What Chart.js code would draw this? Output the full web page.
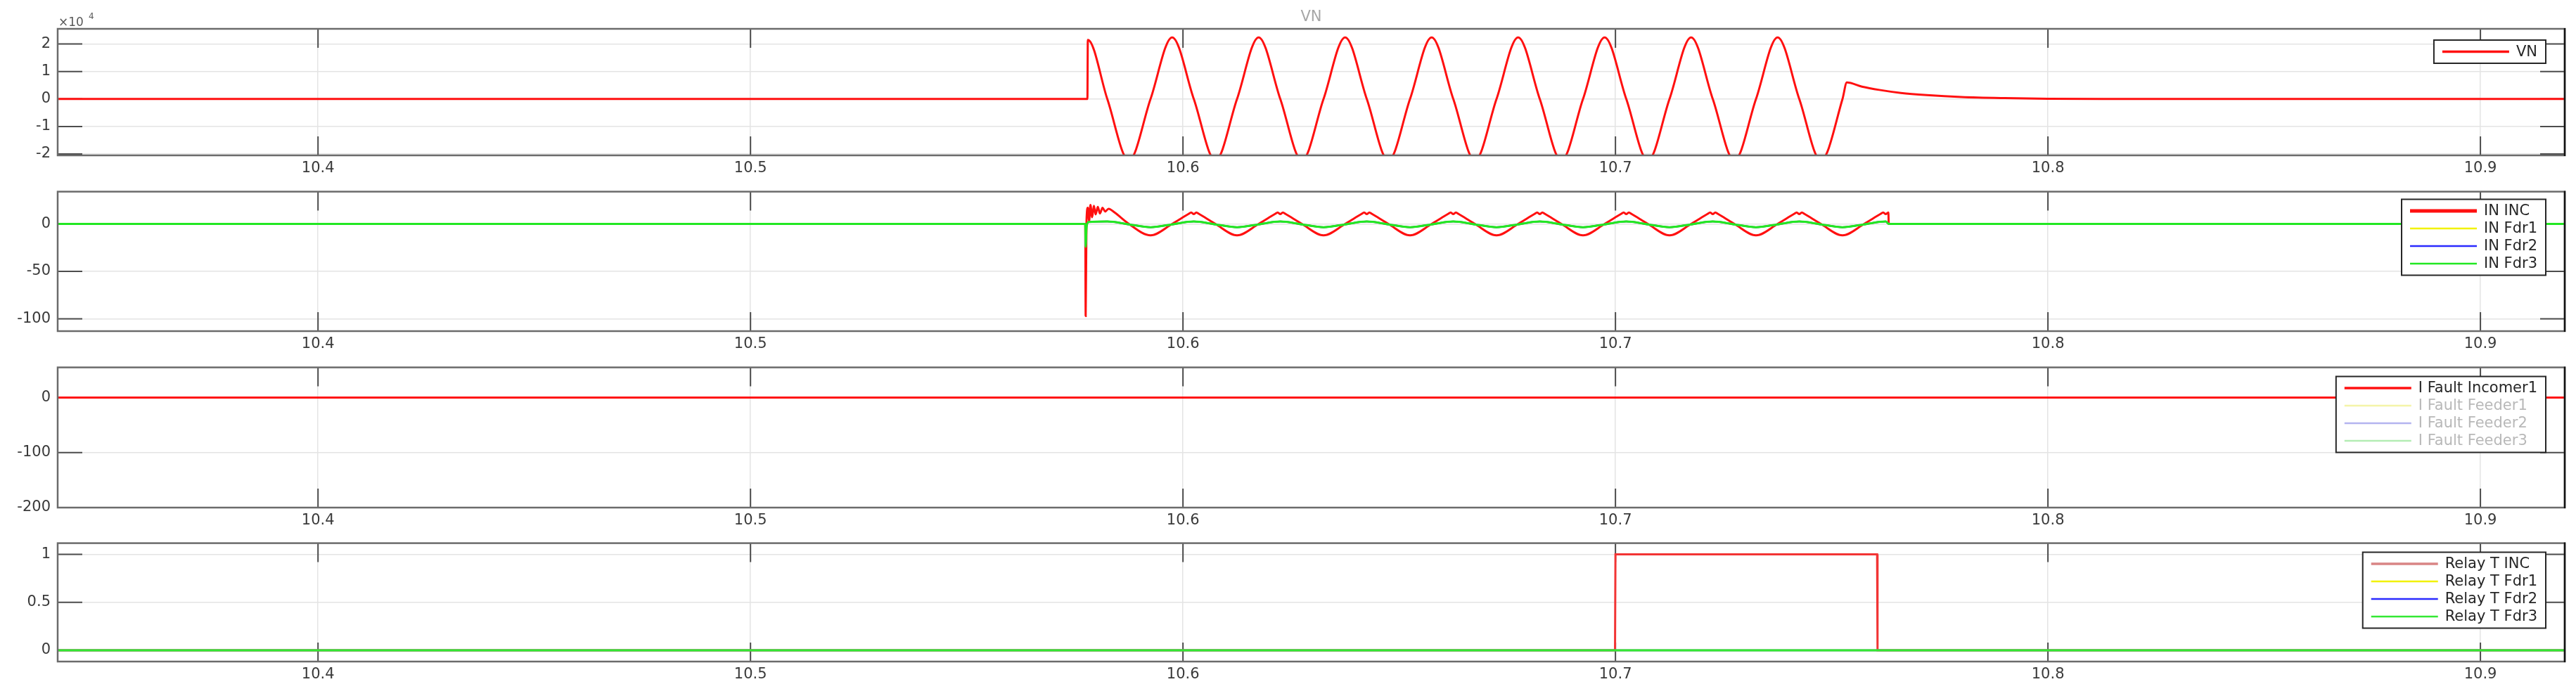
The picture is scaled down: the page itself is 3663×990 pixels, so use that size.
<!DOCTYPE html>
<html>
<head>
<meta charset="utf-8">
<script src="https://cdn.jsdelivr.net/npm/chart.js@4.4.1/dist/chart.umd.min.js"></script>
<style>
  html, body { margin: 0; padding: 0; background: #fff; }
  #wrap { position: relative; width: 3663px; height: 990px; overflow: hidden; }
  canvas { position: absolute; left: 0; }
</style>
</head>
<body>
<div id="wrap">
  <canvas id="cVN"    width="3663" height="250" style="top:0px"></canvas>
  <canvas id="cIN"    width="3663" height="250" style="top:250px"></canvas>
  <canvas id="cFault" width="3663" height="250" style="top:500px"></canvas>
  <canvas id="cRelay" width="3663" height="240" style="top:750px"></canvas>
</div>
<script>
/* ===== time axis ===== */
const tStart = 10.3398, tEnd = 10.9195;
const xTickValues = [10.4, 10.5, 10.6, 10.7, 10.8, 10.9];

/* ===== VN (x10^4) ===== */
const vnTicks = [-2, -1, 0, 1, 2];
const vnTime = [10.3398, 10.5779, 10.578, 10.5825, 10.5875, 10.5925,
  10.5975, 10.6025, 10.6075, 10.6125, 10.6175, 10.6225, 10.6275, 10.6325,
  10.6375, 10.6425, 10.6475, 10.6525, 10.6575, 10.6625, 10.6675, 10.6725,
  10.6775, 10.6825, 10.6875, 10.6925, 10.6975, 10.7025, 10.7075, 10.7125,
  10.7175, 10.7225, 10.7275, 10.7325, 10.7375, 10.7425, 10.7475, 10.7525,
  10.7535, 10.757, 10.761, 10.766, 10.772, 10.78, 10.79, 10.80, 10.815, 10.9195];
const vnVal = [0, 0, 2.15, 0, -2.24, 0,
  2.24, 0, -2.24, 0, 2.24, 0, -2.24, 0,
  2.24, 0, -2.24, 0, 2.24, 0, -2.24, 0,
  2.24, 0, -2.24, 0, 2.24, 0, -2.24, 0,
  2.24, 0, -2.24, 0, 2.24, 0, -2.24, 0,
  0.6, 0.45, 0.33, 0.22, 0.14, 0.07, 0.03, 0.01, 0, 0];

/* ===== IN currents ===== */
const inTicks = [-100, -50, 0];
const inIncTime = [10.3398, 10.5774, 10.5775, 10.5777, 10.578, 10.5783, 10.5786, 10.579,
  10.5794, 10.5798, 10.5803, 10.5808, 10.5814, 10.582, 10.5828, 10.5842,
  10.5875, 10.5925, 10.5975,
  10.6013, 10.6019, 10.6025, 10.6031, 10.6037, 10.6075, 10.6125, 10.6175,
  10.6213, 10.6219, 10.6225, 10.6231, 10.6237, 10.6275, 10.6325, 10.6375,
  10.6413, 10.6419, 10.6425, 10.6431, 10.6437, 10.6475, 10.6525, 10.6575,
  10.6613, 10.6619, 10.6625, 10.6631, 10.6637, 10.6675, 10.6725, 10.6775,
  10.6813, 10.6819, 10.6825, 10.6831, 10.6837, 10.6875, 10.6925, 10.6975,
  10.7013, 10.7019, 10.7025, 10.7031, 10.7037, 10.7075, 10.7125, 10.7175,
  10.7213, 10.7219, 10.7225, 10.7231, 10.7237, 10.7275, 10.7325, 10.7375,
  10.7413, 10.7419, 10.7425, 10.7431, 10.7437, 10.7475, 10.7525, 10.7575,
  10.7613, 10.7619, 10.7625, 10.7631, 10.7632, 10.9195];
const inIncVal = [0, 0, -97, 4, 17, 3, 20, 7,
  19, 10, 18, 11, 17, 13, 16, 12,
  0, -12, 0,
  10.5, 12, 10.3, 12, 10.5, 0, -12, 0,
  10.5, 12, 10.3, 12, 10.5, 0, -12, 0,
  10.5, 12, 10.3, 12, 10.5, 0, -12, 0,
  10.5, 12, 10.3, 12, 10.5, 0, -12, 0,
  10.5, 12, 10.3, 12, 10.5, 0, -12, 0,
  10.5, 12, 10.3, 12, 10.5, 0, -12, 0,
  10.5, 12, 10.3, 12, 10.5, 0, -12, 0,
  10.5, 12, 10.3, 12, 10.5, 0, -12, 0,
  10.5, 12, 10.3, 12, 0, 0];
const inFdrTime = [10.3398, 10.5774, 10.5775, 10.5777, 10.5782, 10.5825,
  10.5875, 10.5925, 10.5975, 10.6025, 10.6075, 10.6125, 10.6175, 10.6225,
  10.6275, 10.6325, 10.6375, 10.6425, 10.6475, 10.6525, 10.6575, 10.6625,
  10.6675, 10.6725, 10.6775, 10.6825, 10.6875, 10.6925, 10.6975, 10.7025,
  10.7075, 10.7125, 10.7175, 10.7225, 10.7275, 10.7325, 10.7375, 10.7425,
  10.7475, 10.7525, 10.7575, 10.7625, 10.7632, 10.9195];
const inFdrVal = [0, 0, -24, -3, 2, 2.5,
  -0.5, -3.5, -0.5, 2.5, -0.5, -3.5, -0.5, 2.5,
  -0.5, -3.5, -0.5, 2.5, -0.5, -3.5, -0.5, 2.5,
  -0.5, -3.5, -0.5, 2.5, -0.5, -3.5, -0.5, 2.5,
  -0.5, -3.5, -0.5, 2.5, -0.5, -3.5, -0.5, 2.5,
  -0.5, -3.5, -0.5, 2.5, 0, 0];
const flatTime = [10.3398, 10.9195];
const flatVal = [0, 0];

/* ===== fault currents ===== */
const faultTicks = [-200, -100, 0];

/* ===== relay trips ===== */
const relayTicks = [0, 0.5, 1];
const relayIncTime = [10.3398, 10.6999, 10.7, 10.7605, 10.7606, 10.9195];
const relayIncVal = [0, 0, 1, 1, 0, 0];

/* ===== helpers ===== */
const FONT = '"DejaVu Sans", "Liberation Sans", Arial, sans-serif';
const pts = (ts, vs) => ts.map((t, i) => ({ x: t, y: vs[i] }));

function series (label, ts, vs, color, extra) {
  return Object.assign({
    label, data: pts(ts, vs),
    borderColor: color, backgroundColor: color,
    borderWidth: 2.5, pointRadius: 0, fill: false, tension: 0
  }, extra || {});
}

/* inner MATLAB-style ticks + frame */
const axesFrame = {
  id: 'axesFrame',
  beforeDatasetsDraw (chart) {
    const { ctx, chartArea: a, scales: { x, y } } = chart;
    ctx.save();
    ctx.strokeStyle = '#4d4d4d';
    ctx.lineWidth = 2;
    ctx.beginPath();
    x.ticks.forEach(t => {
      const px = x.getPixelForValue(t.value);
      ctx.moveTo(px, a.top);    ctx.lineTo(px, a.top + 27);
      ctx.moveTo(px, a.bottom); ctx.lineTo(px, a.bottom - 27);
    });
    y.ticks.forEach(t => {
      const py = y.getPixelForValue(t.value);
      ctx.moveTo(a.left, py);  ctx.lineTo(a.left + 35, py);
      ctx.moveTo(a.right, py); ctx.lineTo(a.right - 35, py);
    });
    ctx.stroke();
    ctx.restore();
  },
  afterDatasetsDraw (chart) {
    const { ctx, chartArea: a } = chart;
    ctx.save();
    ctx.strokeStyle = '#6b6b6b';
    ctx.lineWidth = 2.5;
    ctx.strokeRect(a.left, a.top, a.right - a.left, a.bottom - a.top);
    ctx.strokeStyle = '#111';
    ctx.beginPath();
    ctx.moveTo(a.right, a.top - 1); ctx.lineTo(a.right, a.bottom + 1);
    ctx.stroke();
    ctx.restore();
  }
};

/* boxed legend inside the axes, top-right */
const boxLegend = {
  id: 'boxLegend',
  afterDraw (chart, args, o) {
    const { ctx } = chart;
    const sets = chart.data.datasets;
    ctx.save();
    ctx.font = '21px ' + FONT;
    const textW = Math.max(...sets.map(d => ctx.measureText(d.label).width));
    const w = 12 + 95 + 10 + textW + 12;
    const h = sets.length * 25 + 8;
    const left = o.right - w, top = o.top;
    ctx.fillStyle = '#fff';
    ctx.fillRect(left, top, w, h);
    ctx.strokeStyle = '#262626';
    ctx.lineWidth = 2;
    ctx.strokeRect(left, top, w, h);
    ctx.textBaseline = 'middle';
    sets.forEach((d, i) => {
      const cy = top + 4 + 25 * (i + 0.5);
      ctx.strokeStyle = d.legendColor || d.borderColor;
      ctx.lineWidth = d.legendWidth || 2.5;
      ctx.beginPath();
      ctx.moveTo(left + 12, cy);
      ctx.lineTo(left + 107, cy);
      ctx.stroke();
      ctx.fillStyle = d.hidden ? '#b8b8b8' : '#262626';
      ctx.fillText(d.label, left + 117, cy + 1);
    });
    ctx.restore();
  }
};

/* title + exponent for the VN panel */
const vnNotes = {
  id: 'vnNotes',
  afterDraw (chart) {
    const { ctx, chartArea: a } = chart;
    ctx.save();
    ctx.fillStyle = '#a6a6a6';
    ctx.font = '21px ' + FONT;
    ctx.textAlign = 'center';
    ctx.textBaseline = 'middle';
    ctx.fillText('VN', (a.left + a.right) / 2, 25);
    ctx.fillStyle = '#595959';
    ctx.textAlign = 'left';
    ctx.textBaseline = 'alphabetic';
    ctx.font = '17px ' + FONT;
    ctx.fillText('\u00d710', a.left + 1, 37);
    ctx.font = '12px ' + FONT;
    ctx.fillText('4', a.left + 44, 27);
    ctx.restore();
  }
};

function makePanel (id, datasets, yTicks, yMin, yMax, padTop, xAxisH, legendTop, extraPlugins) {
  const canvas = document.getElementById(id);
  return new Chart(canvas, {
    type: 'line',
    data: { datasets },
    options: {
      responsive: false,
      animation: false,
      devicePixelRatio: 1,
      layout: { padding: { top: padTop, right: 16, left: 0, bottom: 0 } },
      plugins: {
        legend: { display: false },
        tooltip: { enabled: false },
        boxLegend: { right: 3620, top: legendTop }
      },
      scales: {
        x: {
          type: 'linear', min: tStart, max: tEnd,
          afterBuildTicks: s => { s.ticks = xTickValues.map(v => ({ value: v })); },
          afterFit: s => { s.height = xAxisH; },
          grid: { color: '#e4e4e4', lineWidth: 1.5, drawTicks: false },
          border: { display: false },
          ticks: { color: '#3a3a3a', padding: 6, maxRotation: 0,
                   font: { family: FONT, size: 21 },
                   callback: v => v.toFixed(1) }
        },
        y: {
          type: 'linear', min: yMin, max: yMax,
          afterBuildTicks: s => { s.ticks = yTicks.map(v => ({ value: v })); },
          afterFit: s => { s.width = 82; },
          grid: { color: '#e4e4e4', lineWidth: 1.5, drawTicks: false },
          border: { display: false },
          ticks: { color: '#3a3a3a', padding: 10,
                   font: { family: FONT, size: 21 },
                   callback: v => String(v) }
        }
      }
    },
    plugins: [axesFrame, boxLegend].concat(extraPlugins || [])
  });
}

/* ===== panel 1: VN ===== */
makePanel('cVN', [
  series('VN', vnTime, vnVal, '#ff1010', { borderWidth: 3, cubicInterpolationMode: 'monotone', legendWidth: 3.5 })
], vnTicks, -2.05, 2.55, 41, 29, 57, [vnNotes]);

/* ===== panel 2: IN ===== */
makePanel('cIN', [
  series('IN INC',  inIncTime, inIncVal, '#ff1010', { borderWidth: 3, order: 3, cubicInterpolationMode: 'monotone', legendWidth: 5 }),
  series('IN Fdr1', inFdrTime, inFdrVal, '#f2f200', { order: 2, cubicInterpolationMode: 'monotone' }),
  series('IN Fdr2', inFdrTime, inFdrVal, '#2a2aff', { order: 1, cubicInterpolationMode: 'monotone' }),
  series('IN Fdr3', inFdrTime, inFdrVal, '#22e822', { borderWidth: 3, order: 0, cubicInterpolationMode: 'monotone' })
], inTicks, -113, 34, 18, 29, 33.5);

/* ===== panel 3: I Fault ===== */
makePanel('cFault', [
  series('I Fault Incomer1', flatTime, flatVal, '#ff1010', { borderWidth: 3, order: 3, legendWidth: 3.5 }),
  series('I Fault Feeder1',  flatTime, flatVal, '#f4f4a8', { hidden: true, order: 2 }),
  series('I Fault Feeder2',  flatTime, flatVal, '#b4b4f0', { hidden: true, order: 1 }),
  series('I Fault Feeder3',  flatTime, flatVal, '#b4ecb4', { hidden: true, order: 0 })
], faultTicks, -200, 55, 22, 28, 35.5);

/* ===== panel 4: Relay trips ===== */
makePanel('cRelay', [
  series('Relay T INC',  relayIncTime, relayIncVal, '#f23434', { borderWidth: 3, order: 3, legendColor: '#d98585', legendWidth: 3.5 }),
  series('Relay T Fdr1', flatTime, flatVal, '#f2f200', { order: 2 }),
  series('Relay T Fdr2', flatTime, flatVal, '#2a2aff', { order: 1 }),
  series('Relay T Fdr3', flatTime, flatVal, '#33e833', { borderWidth: 3, order: 0 })
], relayTicks, -0.117, 1.117, 22, 49, 35.5);
</script>
</body>
</html>
